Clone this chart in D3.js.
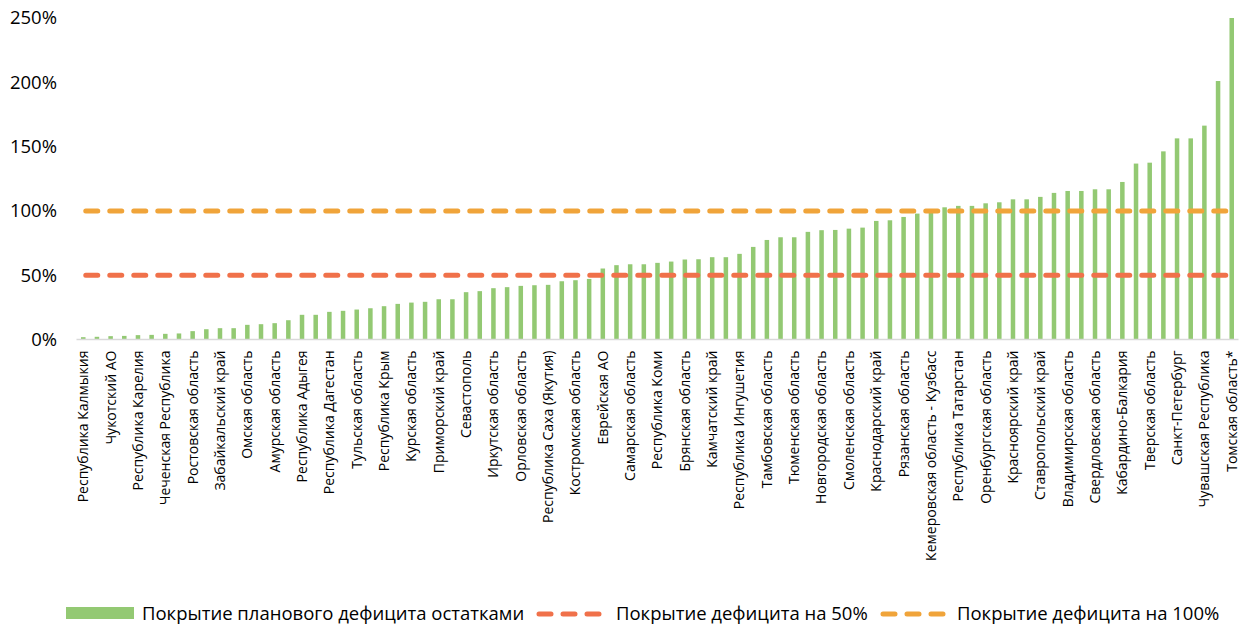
<!DOCTYPE html>
<html>
<head>
    <meta charset="UTF-8">
    <title>Покрытие планового дефицита остатками</title>
</head>
<style>
    body { margin: 0; background: #fff; }
    svg text { font-family: "Open Sans", sans-serif; fill: #000; }
</style>
<body>
<svg width="1247" height="628"></svg>
<script src="https://d3js.org/d3.v7.min.js"></script>
<script>

    // 85 regions, sorted; only every other name is shown on the axis (others unreadable)
    var categories = [
        "Республика Калмыкия", null, "Чукотский АО", null, "Республика Карелия", null,
        "Чеченская Республика", null, "Ростовская область", null, "Забайкальский край", null,
        "Омская область", null, "Амурская область", null, "Республика Адыгея", null,
        "Республика Дагестан", null, "Тульская область", null, "Республика Крым", null,
        "Курская область", null, "Приморский край", null, "Севастополь", null,
        "Иркутская область", null, "Орловская область", null, "Республика Саха (Якутия)", null,
        "Костромская область", null, "Еврейская АО", null, "Самарская область", null,
        "Республика Коми", null, "Брянская область", null, "Камчатский край", null,
        "Республика Ингушетия", null, "Тамбовская область", null, "Тюменская область", null,
        "Новгородская область", null, "Смоленская область", null, "Краснодарский край", null,
        "Рязанская область", null, "Кемеровская область - Кузбасс", null, "Республика Татарстан", null,
        "Оренбургская область", null, "Красноярский край", null, "Ставропольский край", null,
        "Владимирская область", null, "Свердловская область", null, "Кабардино-Балкария", null,
        "Тверская область", null, "Санкт-Петербург", null, "Чувашская Республика", null,
        "Томская область*"
    ];

    var coverage = [
        0.018, 0.021, 0.026, 0.028, 0.034, 0.036, 0.044, 0.047, 0.065, 0.080,
        0.088, 0.088, 0.114, 0.119, 0.127, 0.150, 0.192, 0.192, 0.215, 0.223,
        0.233, 0.243, 0.259, 0.277, 0.287, 0.293, 0.313, 0.313, 0.368, 0.376,
        0.399, 0.407, 0.417, 0.422, 0.425, 0.453, 0.461, 0.471, 0.552, 0.578,
        0.585, 0.585, 0.596, 0.606, 0.622, 0.624, 0.640, 0.640, 0.666, 0.720,
        0.774, 0.795, 0.795, 0.837, 0.850, 0.852, 0.862, 0.870, 0.922, 0.927,
        0.953, 0.979, 1.002, 1.028, 1.039, 1.039, 1.059, 1.067, 1.090, 1.090,
        1.109, 1.140, 1.155, 1.155, 1.168, 1.168, 1.225, 1.368, 1.375, 1.463,
        1.564, 1.564, 1.663, 2.010, 2.500
    ];

    var target50 = 0.5;
    var target100 = 1.0;

    var yTicks = [0, 0.5, 1, 1.5, 2, 2.5];

    var seriesNames = [
        "Покрытие планового дефицита остатками",
        "Покрытие дефицита на 50%",
        "Покрытие дефицита на 100%"
    ];

    var green = "#93C973", red = "#F0714A", orange = "#F0A43A";

    var svg = d3.select("svg");

    var idx = d3.range(categories.length);

    var x = d3.scaleBand()
        .domain(idx)
        .range([76.5, 1238.5])
        .paddingInner(0.67)
        .paddingOuter(0.33);

    var y = d3.scaleLinear()
        .domain([0, 2.5])
        .range([339.5, 18]);

    // y axis labels
    var yAxis = svg.append("g")
        .attr("transform", "translate(57,0)")
        .call(d3.axisLeft(y).tickValues(yTicks).tickSize(0).tickPadding(0)
            .tickFormat(function(d) { return Math.round(d * 100) + "%"; }));
    yAxis.select(".domain").remove();
    yAxis.selectAll("text")
        .attr("font-size", 18.5)
        .attr("font-family", "Open Sans, sans-serif")
        .attr("fill", "#000");

    // bars
    svg.append("g")
        .selectAll("rect")
        .data(coverage)
        .enter().append("rect")
        .attr("x", function(d, i) { return x(i); })
        .attr("width", x.bandwidth())
        .attr("y", function(d) { return y(d); })
        .attr("height", function(d) { return y(0) - y(d); })
        .attr("fill", green);

    // baseline
    svg.append("line")
        .attr("x1", x.range()[0]).attr("x2", x.range()[1])
        .attr("y1", y(0)).attr("y2", y(0))
        .attr("stroke", "#D9D9D9")
        .attr("stroke-width", 1.5);

    // x axis labels
    var xAxis = svg.append("g")
        .attr("transform", "translate(0," + y(0) + ")")
        .call(d3.axisBottom(x)
            .tickValues(idx.filter(function(i) { return categories[i] !== null; }))
            .tickSize(0)
            .tickFormat(function(i) { return categories[i]; }));
    xAxis.select(".domain").remove();
    xAxis.selectAll("text")
        .attr("font-size", 14)
        .attr("fill", "#000")
        .attr("transform", "rotate(-90)")
        .attr("text-anchor", "end")
        .attr("x", -11)
        .attr("y", 0)
        .attr("dy", "0.35em");

    // target lines
    var line = d3.line()
        .x(function(d, i) { return x(i) + x.bandwidth() / 2; })
        .y(function(d) { return y(d); });

    [[target50, red], [target100, orange]].forEach(function(t) {
        svg.append("path")
            .datum(coverage.map(function() { return t[0]; }))
            .attr("d", line)
            .attr("fill", "none")
            .attr("stroke", t[1])
            .attr("stroke-width", 5)
            .attr("stroke-linecap", "round")
            .attr("stroke-dasharray", "12,12")
            .attr("stroke-dashoffset", -2.5);
    });

    // legend
    var legend = svg.append("g").attr("font-size", 18.5);
    legend.append("rect")
        .attr("x", 66).attr("y", 607)
        .attr("width", 68).attr("height", 12)
        .attr("fill", green);
    legend.append("text").attr("x", 142).attr("y", 620).text(seriesNames[0]);

    [[539, red, 616, seriesNames[1]], [883, orange, 957, seriesNames[2]]].forEach(function(l) {
        legend.append("line")
            .attr("x1", l[0]).attr("x2", l[0] + 63)
            .attr("y1", 614).attr("y2", 614)
            .attr("stroke", l[1])
            .attr("stroke-width", 5)
            .attr("stroke-linecap", "round")
            .attr("stroke-dasharray", "12,12");
        legend.append("text").attr("x", l[2]).attr("y", 620).text(l[3]);
    });

</script>
</body>
</html>
